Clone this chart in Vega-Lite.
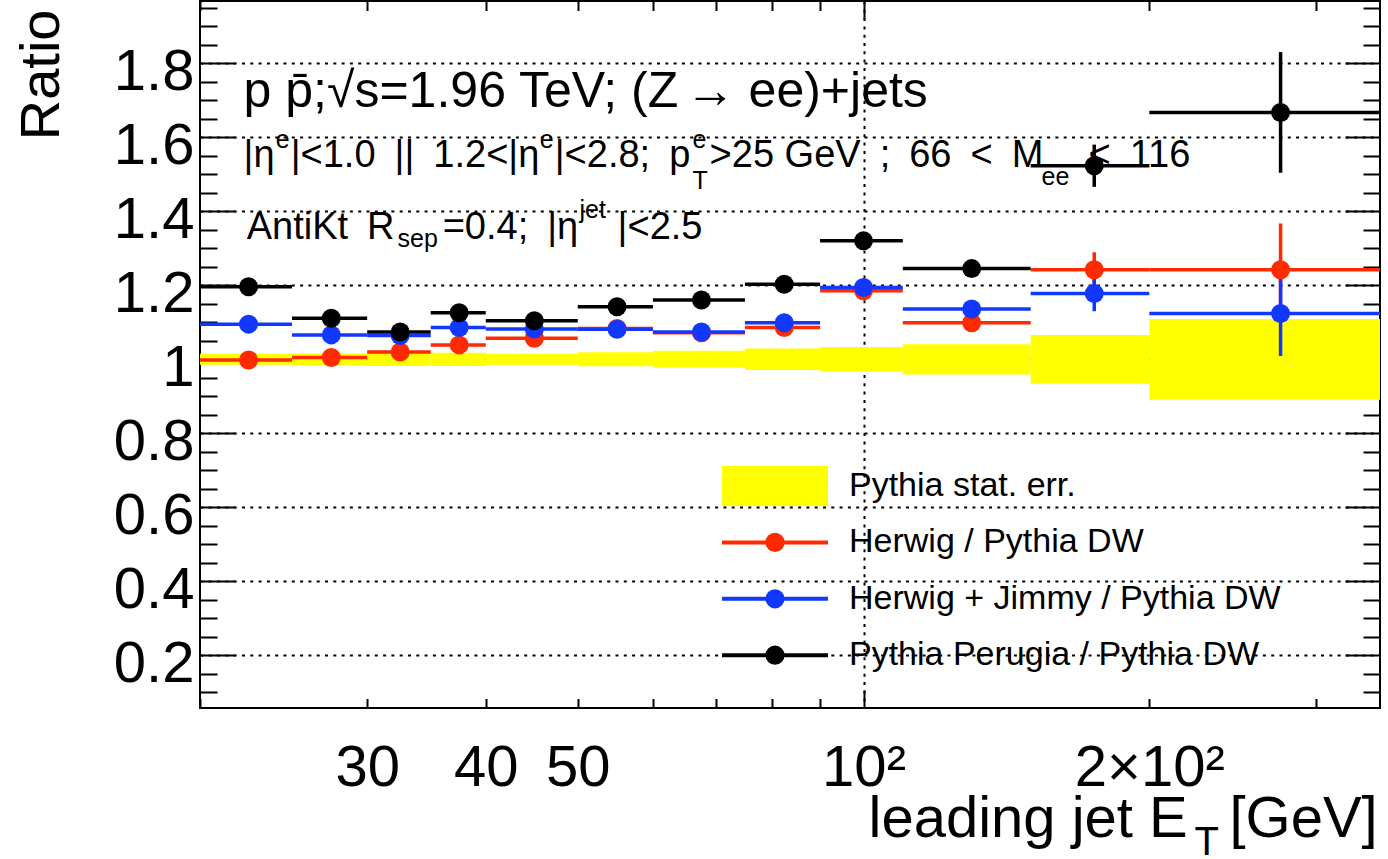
{
  "$schema": "https://vega.github.io/schema/vega-lite/v6.json",
  "width": 1180,
  "height": 707,
  "autosize": {"type": "none"},
  "padding": {"left": 200, "top": 1, "right": 8, "bottom": 151},
  "background": "white",
  "config": {
    "font": "Liberation Sans",
    "view": {"stroke": "black", "strokeWidth": 2}
  },
  "datasets": {
    "band": [
      {"series": "Pythia stat. err.", "lo": 20, "hi": 25, "ymin": 0.985, "ymax": 1.015},
      {"series": "Pythia stat. err.", "lo": 25, "hi": 30, "ymin": 0.984, "ymax": 1.016},
      {"series": "Pythia stat. err.", "lo": 30, "hi": 35, "ymin": 0.982, "ymax": 1.018},
      {"series": "Pythia stat. err.", "lo": 35, "hi": 40, "ymin": 0.982, "ymax": 1.018},
      {"series": "Pythia stat. err.", "lo": 40, "hi": 50, "ymin": 0.985, "ymax": 1.015},
      {"series": "Pythia stat. err.", "lo": 50, "hi": 60, "ymin": 0.981, "ymax": 1.019},
      {"series": "Pythia stat. err.", "lo": 60, "hi": 75, "ymin": 0.977, "ymax": 1.023},
      {"series": "Pythia stat. err.", "lo": 75, "hi": 90, "ymin": 0.971, "ymax": 1.029},
      {"series": "Pythia stat. err.", "lo": 90, "hi": 110, "ymin": 0.967, "ymax": 1.033},
      {"series": "Pythia stat. err.", "lo": 110, "hi": 150, "ymin": 0.959, "ymax": 1.041},
      {"series": "Pythia stat. err.", "lo": 150, "hi": 200, "ymin": 0.934, "ymax": 1.066},
      {"series": "Pythia stat. err.", "lo": 200, "hi": 350, "ymin": 0.891, "ymax": 1.109}
    ],
    "points": [
      {"series": "Herwig / Pythia DW", "lo": 20, "hi": 25, "x": 22.5, "y": 0.998, "ymin": 0.994, "ymax": 1.002},
      {"series": "Herwig / Pythia DW", "lo": 25, "hi": 30, "x": 27.5, "y": 1.005, "ymin": 1.0, "ymax": 1.01},
      {"series": "Herwig / Pythia DW", "lo": 30, "hi": 35, "x": 32.5, "y": 1.02, "ymin": 1.014, "ymax": 1.026},
      {"series": "Herwig / Pythia DW", "lo": 35, "hi": 40, "x": 37.5, "y": 1.039, "ymin": 1.032, "ymax": 1.046},
      {"series": "Herwig / Pythia DW", "lo": 40, "hi": 50, "x": 45, "y": 1.057, "ymin": 1.05, "ymax": 1.064},
      {"series": "Herwig / Pythia DW", "lo": 50, "hi": 60, "x": 55, "y": 1.083, "ymin": 1.075, "ymax": 1.091},
      {"series": "Herwig / Pythia DW", "lo": 60, "hi": 75, "x": 67.5, "y": 1.072, "ymin": 1.063, "ymax": 1.081},
      {"series": "Herwig / Pythia DW", "lo": 75, "hi": 90, "x": 82.5, "y": 1.086, "ymin": 1.075, "ymax": 1.097},
      {"series": "Herwig / Pythia DW", "lo": 90, "hi": 110, "x": 100, "y": 1.185, "ymin": 1.172, "ymax": 1.198},
      {"series": "Herwig / Pythia DW", "lo": 110, "hi": 150, "x": 130, "y": 1.099, "ymin": 1.082, "ymax": 1.116},
      {"series": "Herwig / Pythia DW", "lo": 150, "hi": 200, "x": 175, "y": 1.242, "ymin": 1.195, "ymax": 1.289},
      {"series": "Herwig / Pythia DW", "lo": 200, "hi": 350, "x": 275, "y": 1.242, "ymin": 1.117, "ymax": 1.367},
      {"series": "Herwig + Jimmy / Pythia DW", "lo": 20, "hi": 25, "x": 22.5, "y": 1.095, "ymin": 1.09, "ymax": 1.1},
      {"series": "Herwig + Jimmy / Pythia DW", "lo": 25, "hi": 30, "x": 27.5, "y": 1.066, "ymin": 1.061, "ymax": 1.071},
      {"series": "Herwig + Jimmy / Pythia DW", "lo": 30, "hi": 35, "x": 32.5, "y": 1.064, "ymin": 1.058, "ymax": 1.07},
      {"series": "Herwig + Jimmy / Pythia DW", "lo": 35, "hi": 40, "x": 37.5, "y": 1.086, "ymin": 1.079, "ymax": 1.093},
      {"series": "Herwig + Jimmy / Pythia DW", "lo": 40, "hi": 50, "x": 45, "y": 1.082, "ymin": 1.075, "ymax": 1.089},
      {"series": "Herwig + Jimmy / Pythia DW", "lo": 50, "hi": 60, "x": 55, "y": 1.081, "ymin": 1.073, "ymax": 1.089},
      {"series": "Herwig + Jimmy / Pythia DW", "lo": 60, "hi": 75, "x": 67.5, "y": 1.074, "ymin": 1.065, "ymax": 1.083},
      {"series": "Herwig + Jimmy / Pythia DW", "lo": 75, "hi": 90, "x": 82.5, "y": 1.099, "ymin": 1.088, "ymax": 1.11},
      {"series": "Herwig + Jimmy / Pythia DW", "lo": 90, "hi": 110, "x": 100, "y": 1.194, "ymin": 1.181, "ymax": 1.207},
      {"series": "Herwig + Jimmy / Pythia DW", "lo": 110, "hi": 150, "x": 130, "y": 1.136, "ymin": 1.119, "ymax": 1.153},
      {"series": "Herwig + Jimmy / Pythia DW", "lo": 150, "hi": 200, "x": 175, "y": 1.178, "ymin": 1.13, "ymax": 1.226},
      {"series": "Herwig + Jimmy / Pythia DW", "lo": 200, "hi": 350, "x": 275, "y": 1.124, "ymin": 1.009, "ymax": 1.239},
      {"series": "Pythia Perugia / Pythia DW", "lo": 20, "hi": 25, "x": 22.5, "y": 1.196, "ymin": 1.191, "ymax": 1.201},
      {"series": "Pythia Perugia / Pythia DW", "lo": 25, "hi": 30, "x": 27.5, "y": 1.111, "ymin": 1.106, "ymax": 1.116},
      {"series": "Pythia Perugia / Pythia DW", "lo": 30, "hi": 35, "x": 32.5, "y": 1.074, "ymin": 1.068, "ymax": 1.08},
      {"series": "Pythia Perugia / Pythia DW", "lo": 35, "hi": 40, "x": 37.5, "y": 1.126, "ymin": 1.119, "ymax": 1.133},
      {"series": "Pythia Perugia / Pythia DW", "lo": 40, "hi": 50, "x": 45, "y": 1.104, "ymin": 1.097, "ymax": 1.111},
      {"series": "Pythia Perugia / Pythia DW", "lo": 50, "hi": 60, "x": 55, "y": 1.142, "ymin": 1.134, "ymax": 1.15},
      {"series": "Pythia Perugia / Pythia DW", "lo": 60, "hi": 75, "x": 67.5, "y": 1.16, "ymin": 1.151, "ymax": 1.169},
      {"series": "Pythia Perugia / Pythia DW", "lo": 75, "hi": 90, "x": 82.5, "y": 1.203, "ymin": 1.192, "ymax": 1.214},
      {"series": "Pythia Perugia / Pythia DW", "lo": 90, "hi": 110, "x": 100, "y": 1.32, "ymin": 1.306, "ymax": 1.334},
      {"series": "Pythia Perugia / Pythia DW", "lo": 110, "hi": 150, "x": 130, "y": 1.245, "ymin": 1.227, "ymax": 1.263},
      {"series": "Pythia Perugia / Pythia DW", "lo": 150, "hi": 200, "x": 175, "y": 1.523, "ymin": 1.466, "ymax": 1.58},
      {"series": "Pythia Perugia / Pythia DW", "lo": 200, "hi": 350, "x": 275, "y": 1.667, "ymin": 1.504, "ymax": 1.83}
    ],
    "notes": [
      {"text": "p p\u0304;\u221as=1.96 TeV; (Z", "x": 22.23, "y": 1.6824, "kind": "head"},
      {"text": "\u2192", "x": 64.94, "y": 1.6824, "kind": "head"},
      {"text": "ee)+jets", "x": 75.67, "y": 1.6824, "kind": "head"},
      {"text": "|\u03b7", "x": 22.23, "y": 1.5203, "kind": "line"},
      {"text": "e", "x": 24.03, "y": 1.5716, "kind": "script"},
      {"text": "|<1.0\u2002||\u20021.2<|\u03b7", "x": 24.92, "y": 1.5203, "kind": "line"},
      {"text": "e", "x": 45.59, "y": 1.5716, "kind": "script"},
      {"text": "|<2.8;\u2002p", "x": 47.28, "y": 1.5203, "kind": "line"},
      {"text": "e", "x": 66.06, "y": 1.5716, "kind": "script"},
      {"text": "T", "x": 66.06, "y": 1.4608, "kind": "script"},
      {"text": ">25 GeV\u2002;\u200266\u2002<\u2002M", "x": 68.84, "y": 1.5203, "kind": "line"},
      {"text": "ee", "x": 153.99, "y": 1.4716, "kind": "script"},
      {"text": "<\u2002116", "x": 172.62, "y": 1.5203, "kind": "line"},
      {"text": "AntiKt\u2002R", "x": 22.4, "y": 1.3249, "kind": "line"},
      {"text": "sep", "x": 32.3, "y": 1.3022, "kind": "script"},
      {"text": "=0.4;\u2002|\u03b7", "x": 36.03, "y": 1.3249, "kind": "line"},
      {"text": "jet", "x": 50.22, "y": 1.3824, "kind": "script"},
      {"text": "|<2.5", "x": 55.07, "y": 1.3249, "kind": "line"},
      {"text": "leading jet E", "x": 101.22, "y": -0.2905, "kind": "axis"},
      {"text": "T", "x": 223.2, "y": -0.3392, "kind": "axissub"},
      {"text": "[GeV]", "x": 242.9, "y": -0.2905, "kind": "axis"}
    ]
  },
  "layer": [
    {
      "data": {"name": "band"},
      "mark": {"type": "rect"},
      "encoding": {
        "x": {
          "field": "lo", "type": "quantitative",
          "scale": {"type": "log", "domain": [20, 350], "nice": false},
          "axis": {
            "orient": "bottom",
            "values": [20, 30, 40, 50, 60, 70, 80, 90, 100, 200, 300],
            "labelExpr": "datum.value == 100 ? '10\u00b2' : datum.value == 200 ? '2\u00d710\u00b2' : (datum.value >= 30 && datum.value <= 50) ? format(datum.value, 'd') : ''",
            "labelFontSize": 58, "labelColor": "black", "labelFontWeight": "normal",
            "labelBaseline": "top", "labelAlign": "center", "labelAngle": 0,
            "labelFlush": false, "labelOverlap": false, "labelBound": false,
            "labelPadding": {"condition": {"test": "datum.value == 100", "value": 49}, "value": 40.5},
            "ticks": true, "tickColor": "black", "tickWidth": 2,
            "tickSize": {"condition": {"test": "datum.value == 100", "value": -18}, "value": -9.5},
            "grid": true, "gridColor": "black", "gridWidth": 2, "gridDash": [3, 5.3],
            "gridOpacity": {"condition": {"test": "datum.value == 100", "value": 1}, "value": 0},
            "domain": false,
            "title": null
          }
        },
        "x2": {"field": "hi"},
        "y": {
          "field": "ymin", "type": "quantitative",
          "scale": {"domain": [0.058, 1.968], "nice": false, "zero": false},
          "axis": {
            "orient": "left",
            "values": [0.1, 0.15, 0.2, 0.25, 0.3, 0.35, 0.4, 0.45, 0.5, 0.55, 0.6, 0.65, 0.7, 0.75, 0.8, 0.85, 0.9, 0.95, 1, 1.05, 1.1, 1.15, 1.2, 1.25, 1.3, 1.35, 1.4, 1.45, 1.5, 1.55, 1.6, 1.65, 1.7, 1.75, 1.8, 1.85, 1.9, 1.95],
            "labelExpr": "abs(datum.value*5 - round(datum.value*5)) < 0.001 ? (abs(datum.value - 1) < 0.001 ? '1' : format(datum.value, '.1f')) : ''",
            "labelFontSize": 58, "labelColor": "black", "labelFontWeight": "normal",
            "labelAlign": "right", "labelBaseline": "middle",
            "labelPadding": 41, "labelOffset": 9,
            "labelFlush": false, "labelOverlap": false, "labelBound": false,
            "ticks": true, "tickColor": "black", "tickWidth": 2,
            "tickSize": {"condition": {"test": "abs(datum.value*5 - round(datum.value*5)) < 0.001", "value": -35}, "value": -17},
            "grid": true, "gridColor": "black", "gridWidth": 2, "gridDash": [3, 5.3],
            "gridOpacity": {"condition": {"test": "abs(datum.value*5 - round(datum.value*5)) < 0.001", "value": 1}, "value": 0},
            "domain": false,
            "title": "Ratio",
            "titleFontSize": 56, "titleColor": "black", "titleFontWeight": "normal",
            "titleAngle": 270, "titleAlign": "right", "titleBaseline": "alphabetic",
            "titleX": -142, "titleY": 8
          }
        },
        "y2": {"field": "ymax"},
        "color": {
          "field": "series", "type": "nominal",
          "scale": {
            "domain": ["Pythia stat. err.", "Herwig / Pythia DW", "Herwig + Jimmy / Pythia DW", "Pythia Perugia / Pythia DW"],
            "range": ["#ffff00", "#ff2a00", "#1238ff", "#000000"]
          },
          "legend": {
            "orient": "none", "legendX": 522, "legendY": 463, "direction": "vertical",
            "title": null, "padding": 0,
            "symbolSize": 1600, "symbolStrokeWidth": 4,
            "symbolOffset": 31, "labelOffset": 52, "rowPadding": 4.4,
            "labelFontSize": 34, "labelColor": "black", "labelLimit": 1000,
            "encode": {
              "symbols": {
                "update": {
                  "shape": {"signal": "datum.value === 'Pythia stat. err.' ? 'M-2.55,-0.9H2.55V0.9H-2.55Z' : 'M-2.65,0H2.65M-0.38,0A0.38,0.38 0 1 1 0.38,0A0.38,0.38 0 1 1 -0.38,0ZM0,-0.9L0,-0.9M0,0.9L0,0.9'"},
                  "fill": {"signal": "scale('color', datum.value)"},
                  "stroke": {"signal": "scale('color', datum.value)"},
                  "opacity": {"value": 1},
                  "fillOpacity": {"value": 1},
                  "strokeOpacity": {"value": 1}
                }
              }
            }
          }
        }
      }
    },
    {
      "data": {"name": "notes"},
      "encoding": {
        "x": {"field": "x", "type": "quantitative", "scale": {"type": "log", "domain": [20, 350], "nice": false}, "axis": null},
        "y": {"field": "y", "type": "quantitative", "scale": {"domain": [0.058, 1.968], "nice": false, "zero": false}, "axis": null},
        "text": {"field": "text"}
      },
      "layer": [
        {"transform": [{"filter": "datum.kind === 'head'"}], "mark": {"type": "text", "align": "left", "baseline": "alphabetic", "color": "black", "fontSize": 50}},
        {"transform": [{"filter": "datum.kind === 'line'"}], "mark": {"type": "text", "align": "left", "baseline": "alphabetic", "color": "black", "fontSize": 38}},
        {"transform": [{"filter": "datum.kind === 'script'"}], "mark": {"type": "text", "align": "left", "baseline": "alphabetic", "color": "black", "fontSize": 25}},
        {"transform": [{"filter": "datum.kind === 'axis'"}], "mark": {"type": "text", "align": "left", "baseline": "alphabetic", "color": "black", "fontSize": 58}},
        {"transform": [{"filter": "datum.kind === 'axissub'"}], "mark": {"type": "text", "align": "left", "baseline": "alphabetic", "color": "black", "fontSize": 40}}
      ]
    },
    {
      "data": {"name": "points"},
      "mark": {"type": "rule", "strokeWidth": 3.5},
      "encoding": {
        "x": {"field": "lo", "type": "quantitative", "scale": {"type": "log", "domain": [20, 350], "nice": false}, "axis": null},
        "x2": {"field": "hi"},
        "y": {"field": "y", "type": "quantitative", "scale": {"domain": [0.058, 1.968], "nice": false, "zero": false}, "axis": null},
        "color": {"field": "series", "type": "nominal", "legend": null}
      }
    },
    {
      "data": {"name": "points"},
      "mark": {"type": "rule", "strokeWidth": 3.5},
      "encoding": {
        "x": {"field": "x", "type": "quantitative", "scale": {"type": "log", "domain": [20, 350], "nice": false}, "axis": null},
        "y": {"field": "ymin", "type": "quantitative", "scale": {"domain": [0.058, 1.968], "nice": false, "zero": false}, "axis": null},
        "y2": {"field": "ymax"},
        "color": {"field": "series", "type": "nominal", "legend": null}
      }
    },
    {
      "data": {"name": "points"},
      "mark": {"type": "point", "shape": "circle", "filled": true, "size": 361, "opacity": 1, "strokeWidth": 0},
      "encoding": {
        "x": {
          "field": "x", "type": "quantitative",
          "scale": {"type": "log", "domain": [20, 350], "nice": false},
          "axis": {
            "orient": "top",
            "values": [20, 30, 40, 50, 60, 70, 80, 90, 100, 200, 300],
            "labels": false, "grid": false, "domain": false, "title": null,
            "ticks": true, "tickColor": "black", "tickWidth": 2,
            "tickSize": {"condition": {"test": "datum.value == 100", "value": -18}, "value": -9.5}
          }
        },
        "y": {
          "field": "y", "type": "quantitative",
          "scale": {"domain": [0.058, 1.968], "nice": false, "zero": false},
          "axis": {
            "orient": "right",
            "values": [0.1, 0.15, 0.2, 0.25, 0.3, 0.35, 0.4, 0.45, 0.5, 0.55, 0.6, 0.65, 0.7, 0.75, 0.8, 0.85, 0.9, 0.95, 1, 1.05, 1.1, 1.15, 1.2, 1.25, 1.3, 1.35, 1.4, 1.45, 1.5, 1.55, 1.6, 1.65, 1.7, 1.75, 1.8, 1.85, 1.9, 1.95],
            "labels": false, "grid": false, "domain": false, "title": null,
            "ticks": true, "tickColor": "black", "tickWidth": 2,
            "tickSize": {"condition": {"test": "abs(datum.value*5 - round(datum.value*5)) < 0.001", "value": -35}, "value": -17}
          }
        },
        "color": {"field": "series", "type": "nominal", "legend": null}
      }
    }
  ],
  "resolve": {"axis": {"x": "independent", "y": "independent"}}
}
